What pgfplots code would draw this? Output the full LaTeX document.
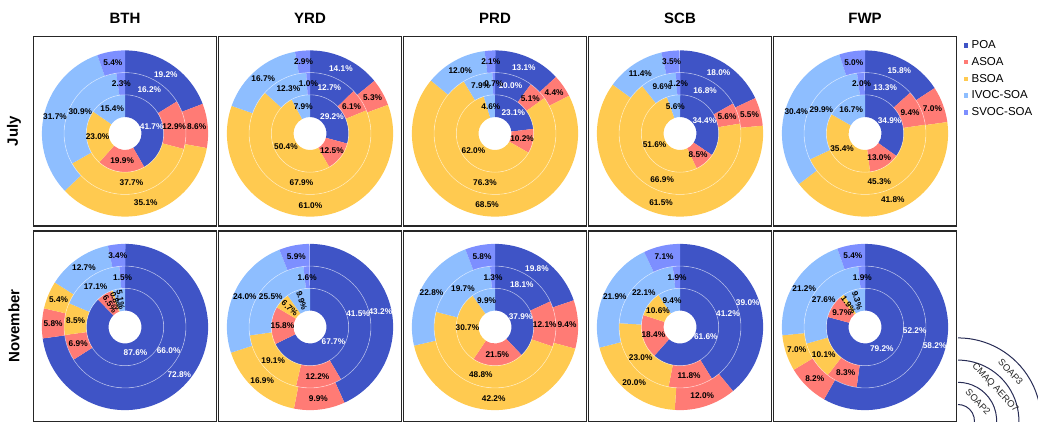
\documentclass[border=0pt]{standalone}
\usepackage{fontspec}
\setmainfont{Liberation Sans}
\usepackage{pgfplots}
\usepackage{pgfplotstable}
\pgfplotsset{compat=1.18}

\definecolor{cPOA}{RGB}{63,84,198}
\definecolor{cASOA}{RGB}{255,123,117}
\definecolor{cBSOA}{RGB}{255,202,80}
\definecolor{cIVOC}{RGB}{142,190,255}
\definecolor{cSVOC}{RGB}{125,143,255}
\definecolor{arcc}{RGB}{40,44,85}

% columns: shares (%) of POA, ASOA, BSOA, IVOC-SOA, SVOC-SOA; rows: SOAP2 (inner), CMAQ AERO7 (middle), SOAP3 (outer); r* = rotate label
\pgfplotstableread{
POA ASOA BSOA IVOC SVOC rPOA rASOA rBSOA rIVOC rSVOC
41.7 19.9 23.0 15.4 0   0 0 0 0 0
16.2 12.9 37.7 30.9 2.3 0 0 0 0 0
19.2 8.6 35.1 31.7 5.4  0 0 0 0 0
}\BTHjul
\pgfplotstableread{
POA ASOA BSOA IVOC SVOC rPOA rASOA rBSOA rIVOC rSVOC
29.2 12.5 50.4 7.9 0    0 0 0 0 0
12.7 6.1 67.9 12.3 1.0  0 0 0 0 0
14.1 5.3 61.0 16.7 2.9  0 0 0 0 0
}\YRDjul
\pgfplotstableread{
POA ASOA BSOA IVOC SVOC rPOA rASOA rBSOA rIVOC rSVOC
23.1 10.2 62.0 4.6 0    0 0 0 0 0
10.0 5.1 76.3 7.9 0.7   0 0 0 0 0
13.1 4.4 68.5 12.0 2.1  0 0 0 0 0
}\PRDjul
\pgfplotstableread{
POA ASOA BSOA IVOC SVOC rPOA rASOA rBSOA rIVOC rSVOC
34.4 8.5 51.6 5.6 0     0 0 0 0 0
16.8 5.6 66.9 9.6 1.2   0 0 0 0 0
18.0 5.5 61.5 11.4 3.5  0 0 0 0 0
}\SCBjul
\pgfplotstableread{
POA ASOA BSOA IVOC SVOC rPOA rASOA rBSOA rIVOC rSVOC
34.9 13.0 35.4 16.7 0   0 0 0 0 0
13.3 9.4 45.3 29.9 2.0  0 0 0 0 0
15.8 7.0 41.8 30.4 5.0  0 0 0 0 0
}\FWPjul
\pgfplotstableread{
POA ASOA BSOA IVOC SVOC rPOA rASOA rBSOA rIVOC rSVOC
87.6 6.5 0.8 5.1 0      0 1 1 1 0
66.0 6.9 8.5 17.1 1.5   0 0 0 0 0
72.8 5.8 5.4 12.7 3.4   0 0 0 0 0
}\BTHnov
\pgfplotstableread{
POA ASOA BSOA IVOC SVOC rPOA rASOA rBSOA rIVOC rSVOC
67.7 15.8 6.7 9.9 0     0 0 1 1 0
41.5 12.2 19.1 25.5 1.6 0 0 0 0 0
43.2 9.9 16.9 24.0 5.9  0 0 0 0 0
}\YRDnov
\pgfplotstableread{
POA ASOA BSOA IVOC SVOC rPOA rASOA rBSOA rIVOC rSVOC
37.9 21.5 30.7 9.9 0    0 0 0 0 0
18.1 12.1 48.8 19.7 1.3 0 0 0 0 0
19.8 9.4 42.2 22.8 5.8  0 0 0 0 0
}\PRDnov
\pgfplotstableread{
POA ASOA BSOA IVOC SVOC rPOA rASOA rBSOA rIVOC rSVOC
61.6 18.4 10.6 9.4 0    0 0 0 0 0
41.2 11.8 23.0 22.1 1.9 0 0 0 0 0
39.0 12.0 20.0 21.9 7.1 0 0 0 0 0
}\SCBnov
\pgfplotstableread{
POA ASOA BSOA IVOC SVOC rPOA rASOA rBSOA rIVOC rSVOC
79.2 9.7 1.9 9.3 0      0 0 1 1 0
52.2 8.3 10.1 27.6 1.9  0 0 0 0 0
58.2 8.2 7.0 21.2 5.4   0 0 0 0 0
}\FWPnov

\newcommand\lblfont{\fontsize{8.3}{9}\selectfont\bfseries}
\def\rH{16.5}
\def\rW{22.2}

\newcommand{\donut}[1]{%
 \begin{scope}[shift={(axis cs:0,0)}]
  \foreach \dRing in {0,1,2}{%
   \pgfmathsetmacro\dRi{\rH+\dRing*\rW}%
   \pgfmathsetmacro\dRo{\dRi+\rW}%
   \gdef\dCum{0}%
   \foreach \dCol/\dClr in {POA/cPOA,ASOA/cASOA,BSOA/cBSOA,IVOC/cIVOC,SVOC/cSVOC}{%
     \pgfplotstablegetelem{\dRing}{\dCol}\of#1%
     \let\dVal\pgfplotsretval
     \pgfmathsetmacro\dSa{90-3.6*\dCum}%
     \pgfmathsetmacro\dEa{90-3.6*(\dCum+\dVal)}%
     \ifdim\dVal pt>0.05pt
       \fill[\dClr] (\dSa:\dRi pt) arc[start angle=\dSa,end angle=\dEa,radius=\dRi pt]
          -- (\dEa:\dRo pt) arc[start angle=\dEa,end angle=\dSa,radius=\dRo pt] -- cycle;
     \fi
     \pgfmathsetmacro\dNew{\dCum+\dVal}%
     \xdef\dCum{\dNew}%
   }%
  }%
  \pgfmathsetmacro\dA{\rH+\rW}\pgfmathsetmacro\dB{\rH+2*\rW}%
  \draw[white, opacity=0.5, line width=0.6pt] (0pt,0pt) circle[radius=\dA pt];
  \draw[white, opacity=0.5, line width=0.6pt] (0pt,0pt) circle[radius=\dB pt];
  \foreach \dRing in {0,1,2}{%
   \pgfmathsetmacro\dRm{\rH+\dRing*\rW+\rW/2}%
   \gdef\dCum{0}%
   \foreach \dCol/\dTc in {POA/white,ASOA/black,BSOA/black,IVOC/black,SVOC/black}{%
     \pgfplotstablegetelem{\dRing}{\dCol}\of#1%
     \let\dVal\pgfplotsretval
     \pgfplotstablegetelem{\dRing}{r\dCol}\of#1%
     \let\dRf\pgfplotsretval
     \pgfmathsetmacro\dMa{90-3.6*(\dCum+\dVal/2)}%
     \ifdim\dVal pt>0.05pt
       \ifnum\dRf=1
         \pgfmathparse{cos(\dMa)<0 ? \dMa+180 : \dMa}\let\dRot\pgfmathresult
       \else\def\dRot{0}\fi
       \node[text=\dTc, font=\lblfont, rotate=\dRot, inner sep=0pt] at (\dMa:\dRm pt) {\dVal\%};
     \fi
     \pgfmathsetmacro\dNew{\dCum+\dVal}%
     \xdef\dCum{\dNew}%
   }%
  }%
 \end{scope}%
}

\pgfplotsset{
  panel/.style={anchor=north west, scale only axis, width=183pt,
    xmin=-91.5, xmax=91.5, xtick=\empty, ytick=\empty, clip=false,
    axis line style={line width=1.2pt, black!85}},
  row1/.style={height=189.5pt, ymin=-92.5, ymax=97},
  row2/.style={height=191pt, ymin=-95, ymax=96},
}

\begin{document}
\begin{tikzpicture}
\path[use as bounding box] (0pt,0pt) rectangle (1038pt,-422pt);
\clip (0pt,0pt) rectangle (1038pt,-422pt);

% row 1 (July)
\begin{axis}[panel,row1,at={(33.5pt,-36.5pt)}]
\pgfplotsextra{\donut{\BTHjul}}
\end{axis}
\begin{axis}[panel,row1,at={(218.5pt,-36.5pt)}]
\pgfplotsextra{\donut{\YRDjul}}
\end{axis}
\begin{axis}[panel,row1,at={(403.5pt,-36.5pt)}]
\pgfplotsextra{\donut{\PRDjul}}
\end{axis}
\begin{axis}[panel,row1,at={(588.5pt,-36.5pt)}]
\pgfplotsextra{\donut{\SCBjul}}
\end{axis}
\begin{axis}[panel,row1,at={(773.5pt,-36.5pt)},
  legend style={at={(axis description cs:1,1)}, anchor=north west, xshift=7pt, yshift=-3pt,
    draw=none, fill=none, inner sep=0pt, font=\fontsize{11.5}{13}\selectfont, row sep=5.2pt,
    nodes={inner sep=1pt}, /tikz/every odd column/.append style={column sep=2.5pt}},
  legend cell align=left,
  legend image code/.code={\fill[#1, draw=none] (0pt,-2.2pt) rectangle (4.4pt,2.2pt);}]
\pgfplotsextra{\donut{\FWPjul}}
\addlegendimage{fill=cPOA, draw=none}\addlegendentry{POA}
\addlegendimage{fill=cASOA, draw=none}\addlegendentry{ASOA}
\addlegendimage{fill=cBSOA, draw=none}\addlegendentry{BSOA}
\addlegendimage{fill=cIVOC, draw=none}\addlegendentry{IVOC-SOA}
\addlegendimage{fill=cSVOC, draw=none}\addlegendentry{SVOC-SOA}
\end{axis}

% row 2 (November)
\begin{axis}[panel,row2,at={(33.5pt,-231pt)}]
\pgfplotsextra{\donut{\BTHnov}}
\end{axis}
\begin{axis}[panel,row2,at={(218.5pt,-231pt)}]
\pgfplotsextra{\donut{\YRDnov}}
\end{axis}
\begin{axis}[panel,row2,at={(403.5pt,-231pt)}]
\pgfplotsextra{\donut{\PRDnov}}
\end{axis}
\begin{axis}[panel,row2,at={(588.5pt,-231pt)}]
\pgfplotsextra{\donut{\SCBnov}}
\end{axis}
\begin{axis}[panel,row2,at={(773.5pt,-231pt)}]
\pgfplotsextra{\donut{\FWPnov}}
\end{axis}

% column titles
\foreach \t [count=\i from 0] in {BTH,YRD,PRD,SCB,FWP}
  \node[font=\fontsize{15}{16}\selectfont\bfseries] at (125pt+\i*185pt,-18pt) {\t};
% row labels
\node[rotate=90, font=\fontsize{15}{16}\selectfont\bfseries] at (14pt,-131pt) {July};
\node[rotate=90, font=\fontsize{15}{16}\selectfont\bfseries] at (14pt,-326pt) {November};

% ring key
\begin{scope}[shift={(958pt,-421pt)}]
  \foreach \r in {16.5,38.7,60.9,83.1}
    \draw[arcc, line width=1pt] (90:\r pt) arc[start angle=90,end angle=-5,radius=\r pt];
  \node[rotate=-47, font=\fontsize{9.4}{10}\selectfont, text=black!85] at (43:72pt) {SOAP3};
  \node[rotate=-47, font=\fontsize{9.4}{10}\selectfont, text=black!85] at (42:49.8pt) {CMAQ AERO7};
  \node[rotate=-47, font=\fontsize{9.4}{10}\selectfont, text=black!85] at (43.5:27.6pt) {SOAP2};
\end{scope}
\end{tikzpicture}
\end{document}
